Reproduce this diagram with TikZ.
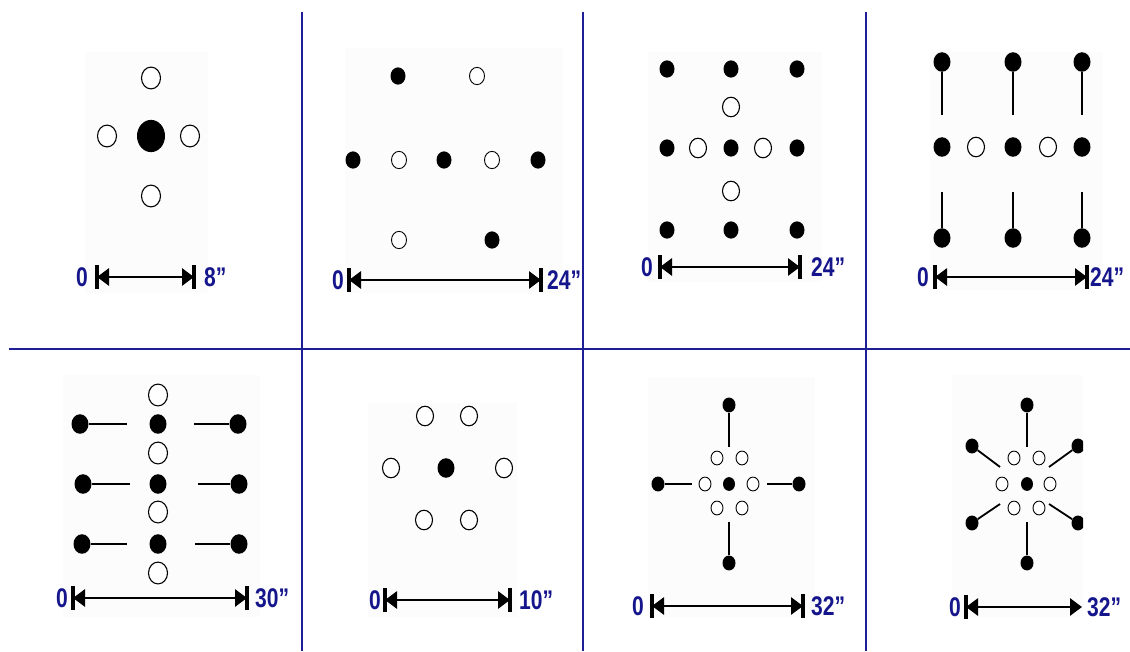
\documentclass[tikz,border=0pt]{standalone}
\usepackage{fontspec}
\setmainfont{Liberation Sans}
\usetikzlibrary{shapes.geometric,arrows.meta}
\definecolor{navy}{RGB}{22,22,140}
\definecolor{gridblue}{RGB}{30,30,150}
\definecolor{panelbg}{RGB}{252,252,252}
\tikzset{
  fdot/.style={ellipse,fill=black,draw=none,inner sep=0pt,minimum width=#1,minimum height=1.15*#1},
  odot/.style={ellipse,draw=black,line width=1.1pt,fill=white,inner sep=0pt,minimum width=#1,minimum height=1.15*#1},
  stem/.style={line width=1.8pt,black},
  dimline/.style={line width=2.8pt,black,{Triangle[length=12pt,width=17pt]}-{Triangle[length=12pt,width=17pt]}},
  dimbar/.style={line width=3.8pt,black},
  lbl/.style={text=navy,inner sep=0pt,font=\bfseries\fontsize{27}{27}\selectfont,xscale=0.78},
  gridline/.style={line width=2pt,gridblue},
  panel/.style={fill=panelbg,draw=none}
}
\begin{document}
\begin{tikzpicture}[x=1pt,y=-1pt]
\useasboundingbox (0,0) rectangle (1130,651);
\fill[white] (0,0) rectangle (1130,651);
% ---------- Panel 1 ----------
\fill[panel] (85,52) rectangle (208,293);
\node[odot=19] (p1t) at (151,78) {};
\node[fdot=28] (p1c) at (151,136) {};
\node[odot=19] (p1l) at (107,136) {};
\node[odot=19] (p1r) at (190,136) {};
\node[odot=19] (p1b) at (151,196) {};
\coordinate (p1a) at (97,277); \coordinate (p1z) at (194,277);
\draw[dimline] (p1a) -- (p1z);
\draw[dimbar] (97,265) -- (97,289); \draw[dimbar] (194,265) -- (194,289);
\node[lbl,anchor=east] (p1l0) at (88,277) {0};
\node[lbl,anchor=west] (p1l1) at (204,277) {8”};
% ---------- Panel 2 ----------
\fill[panel] (345,48) rectangle (563,293);
\node[fdot=15] (p2a) at (398,76) {};
\node[odot=15,line width=0.9pt] (p2b) at (477,76) {};
\node[fdot=15] (p2c) at (353,160) {};
\node[odot=15,line width=0.9pt] (p2d) at (399,160) {};
\node[fdot=15] (p2e) at (444,160) {};
\node[odot=15,line width=0.9pt] (p2f) at (492,160) {};
\node[fdot=15] (p2g) at (538,160) {};
\node[odot=15,line width=0.9pt] (p2h) at (399,240) {};
\node[fdot=15] (p2i) at (492,240) {};
\coordinate (p2x) at (349,280); \coordinate (p2y) at (541,280);
\draw[dimline] (p2x) -- (p2y);
\draw[dimbar] (349,268) -- (349,292); \draw[dimbar] (541,268) -- (541,292);
\node[lbl,anchor=east] (p2l0) at (344,280) {0};
\node[lbl,anchor=west] (p2l1) at (547,280) {24”};
% ---------- Panel 3 ----------
\fill[panel] (648,52) rectangle (822,282);
\node[fdot=15] (p3a) at (667,69) {};
\node[fdot=15] (p3b) at (731,69) {};
\node[fdot=15] (p3c) at (797,69) {};
\node[odot=17] (p3d) at (731,107) {};
\node[fdot=15] (p3e) at (667,148) {};
\node[odot=17] (p3f) at (698,148) {};
\node[fdot=15] (p3g) at (731,148) {};
\node[odot=17] (p3h) at (763,148) {};
\node[fdot=15] (p3i) at (797,148) {};
\node[odot=17] (p3j) at (731,191) {};
\node[fdot=15] (p3k) at (667,230) {};
\node[fdot=15] (p3l) at (731,230) {};
\node[fdot=15] (p3m) at (797,230) {};
\coordinate (p3x) at (660,267); \coordinate (p3y) at (800,267);
\draw[dimline] (p3x) -- (p3y);
\draw[dimbar] (660,255) -- (660,279); \draw[dimbar] (800,255) -- (800,279);
\node[lbl,anchor=east] (p3l0) at (653,267) {0};
\node[lbl,anchor=west] (p3l1) at (811,267) {24”};
% ---------- Panel 4 ----------
\fill[panel] (930,52) rectangle (1103,290);
\node[fdot=17] (p4a) at (942,62) {};
\node[fdot=17] (p4b) at (1013,62) {};
\node[fdot=17] (p4c) at (1082,62) {};
\coordinate (p4as) at (942,115); \coordinate (p4bs) at (1013,115); \coordinate (p4cs) at (1082,115);
\draw[stem] (p4a) -- (p4as); \draw[stem] (p4b) -- (p4bs); \draw[stem] (p4c) -- (p4cs);
\node[fdot=17] (p4d) at (942,147) {};
\node[odot=17] (p4e) at (976,147) {};
\node[fdot=17] (p4f) at (1013,147) {};
\node[odot=17] (p4g) at (1048,147) {};
\node[fdot=17] (p4h) at (1082,147) {};
\node[fdot=17] (p4i) at (942,238) {};
\node[fdot=17] (p4j) at (1013,238) {};
\node[fdot=17] (p4k) at (1082,238) {};
\coordinate (p4is) at (942,192); \coordinate (p4js) at (1013,192); \coordinate (p4ks) at (1082,192);
\draw[stem] (p4is) -- (p4i); \draw[stem] (p4js) -- (p4j); \draw[stem] (p4ks) -- (p4k);
\coordinate (p4x) at (935,277); \coordinate (p4y) at (1087,277);
\draw[dimline] (p4x) -- (p4y);
\draw[dimbar] (935,265) -- (935,289); \draw[dimbar] (1087,265) -- (1087,289);
\node[lbl,anchor=east] (p4l0) at (929,277) {0};
\node[lbl,anchor=west] (p4l1) at (1090,277) {24”};
% ---------- Panel 5 ----------
\fill[panel] (63,375) rectangle (260,617);
\node[odot=19] (p5o1) at (158,395) {};
\node[fdot=17] (p5f1) at (158,424) {};
\node[odot=19] (p5o2) at (158,453) {};
\node[fdot=17] (p5f2) at (158,484) {};
\node[odot=19] (p5o3) at (158,512) {};
\node[fdot=17] (p5f3) at (158,544) {};
\node[odot=19] (p5o4) at (158,573) {};
\node[fdot=17] (p5l1) at (80,424) {};
\node[fdot=17] (p5l2) at (83,484) {};
\node[fdot=17] (p5l3) at (82,544) {};
\coordinate (p5l1e) at (127,424); \coordinate (p5l2e) at (130,484); \coordinate (p5l3e) at (127,544);
\draw[stem] (p5l1) -- (p5l1e); \draw[stem] (p5l2) -- (p5l2e); \draw[stem] (p5l3) -- (p5l3e);
\node[fdot=17] (p5r1) at (238,424) {};
\node[fdot=17] (p5r2) at (239,484) {};
\node[fdot=17] (p5r3) at (239,544) {};
\coordinate (p5r1e) at (194,424); \coordinate (p5r2e) at (198,484); \coordinate (p5r3e) at (195,544);
\draw[stem] (p5r1e) -- (p5r1); \draw[stem] (p5r2e) -- (p5r2); \draw[stem] (p5r3e) -- (p5r3);
\coordinate (p5x) at (73,598); \coordinate (p5y) at (247,598);
\draw[dimline] (p5x) -- (p5y);
\draw[dimbar] (73,586) -- (73,610); \draw[dimbar] (247,586) -- (247,610);
\node[lbl,anchor=east] (p5l0) at (68,598) {0};
\node[lbl,anchor=west] (p5l1) at (255,598) {30”};
% ---------- Panel 6 ----------
\fill[panel] (368,403) rectangle (517,617);
\node[odot=17] (p6a) at (425,416) {};
\node[odot=17] (p6b) at (469,416) {};
\node[odot=17] (p6c) at (391,468) {};
\node[fdot=17] (p6d) at (446,468) {};
\node[odot=17] (p6e) at (504,468) {};
\node[odot=17] (p6f) at (424,520) {};
\node[odot=17] (p6g) at (469,520) {};
\coordinate (p6x) at (385,600); \coordinate (p6y) at (510,600);
\draw[dimline] (p6x) -- (p6y);
\draw[dimbar] (385,588) -- (385,612); \draw[dimbar] (510,588) -- (510,612);
\node[lbl,anchor=east] (p6l0) at (381,600) {0};
\node[lbl,anchor=west] (p6l1) at (519,600) {10”};
% ---------- Panel 7 ----------
\fill[panel] (648,377) rectangle (815,617);
\node[fdot=12] (p7c) at (729,484) {};
\node[fdot=13] (p7t) at (729,405) {};
\node[fdot=13] (p7b) at (729,563) {};
\node[fdot=13] (p7l) at (658,484) {};
\node[fdot=13] (p7r) at (799,484) {};
\coordinate (p7te) at (729,447); \coordinate (p7be) at (729,522);
\coordinate (p7le) at (692,484); \coordinate (p7re) at (767,484);
\draw[stem] (p7t) -- (p7te); \draw[stem] (p7be) -- (p7b);
\draw[stem] (p7l) -- (p7le); \draw[stem] (p7re) -- (p7r);
\node[odot=12,line width=0.9pt] (p7o1) at (717,458) {};
\node[odot=12,line width=0.9pt] (p7o2) at (742,458) {};
\node[odot=12,line width=0.9pt] (p7o3) at (705,484) {};
\node[odot=12,line width=0.9pt] (p7o4) at (753,484) {};
\node[odot=12,line width=0.9pt] (p7o5) at (717,508) {};
\node[odot=12,line width=0.9pt] (p7o6) at (742,508) {};
\coordinate (p7x) at (652,606); \coordinate (p7y) at (803,606);
\draw[dimline] (p7x) -- (p7y);
\draw[dimbar] (652,594) -- (652,618); \draw[dimbar] (803,594) -- (803,618);
\node[lbl,anchor=east] (p7l0) at (644,606) {0};
\node[lbl,anchor=west] (p7l1) at (811,606) {32”};
% ---------- Panel 8 ----------
\fill[panel] (952,375) rectangle (1083,617);
\begin{scope}
\clip (940,370) rectangle (1083,620);
\node[fdot=12] (p8c) at (1027,484) {};
\node[fdot=13] (p8t) at (1027,405) {};
\node[fdot=13] (p8b) at (1027,563) {};
\node[fdot=13] (p8ul) at (972,446) {};
\node[fdot=13] (p8ur) at (1078,446) {};
\node[fdot=13] (p8ll) at (972,523) {};
\node[fdot=13] (p8lr) at (1078,523) {};
\end{scope}
\coordinate (p8te) at (1027,447); \coordinate (p8be) at (1027,522);
\coordinate (p8ule) at (1000,467); \coordinate (p8ure) at (1049,467);
\coordinate (p8lle) at (1000,504); \coordinate (p8lre) at (1049,504);
\draw[stem] (p8t) -- (p8te); \draw[stem] (p8be) -- (p8b);
\draw[stem] (p8ul) -- (p8ule); \draw[stem] (p8ure) -- (p8ur);
\draw[stem] (p8lle) -- (p8ll); \draw[stem] (p8lre) -- (p8lr);
\node[odot=12,line width=0.9pt] (p8o1) at (1014,458) {};
\node[odot=12,line width=0.9pt] (p8o2) at (1039,458) {};
\node[odot=12,line width=0.9pt] (p8o3) at (1002,484) {};
\node[odot=12,line width=0.9pt] (p8o4) at (1050,484) {};
\node[odot=12,line width=0.9pt] (p8o5) at (1014,508) {};
\node[odot=12,line width=0.9pt] (p8o6) at (1039,508) {};
\coordinate (p8x) at (966,607); \coordinate (p8y) at (1082,607);
\draw[dimline] (p8x) -- (p8y);
\draw[dimbar] (966,595) -- (966,619);
\node[lbl,anchor=east] (p8l0) at (961,607) {0};
\node[lbl,anchor=west] (p8l1) at (1087,607) {32”};
% ---------- grid ----------
\draw[gridline] (9,349) -- (1130,349);
\draw[gridline] (302,12) -- (302,651);
\draw[gridline] (583,12) -- (583,651);
\draw[gridline] (866,12) -- (866,651);
\end{tikzpicture}
\end{document}
